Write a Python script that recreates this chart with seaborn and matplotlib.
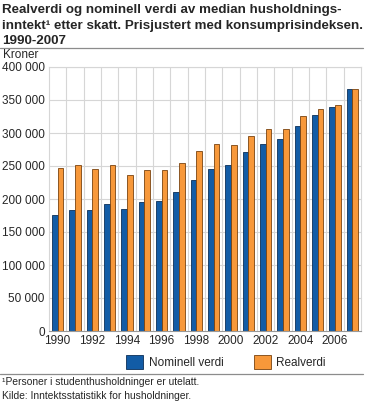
import pandas as pd
import matplotlib.pyplot as plt
import seaborn as sns
from matplotlib.lines import Line2D
from matplotlib.patches import Patch

sns.set_theme(style="white")
plt.rcParams['font.family'] = ['Liberation Sans', 'DejaVu Sans']

years = list(range(1990, 2008))
nominell = [175000, 183000, 183000, 193000, 185000, 195000, 196500, 210000, 229000,
            245000, 252000, 271000, 284000, 291000, 310000, 327000, 339000, 366000]
real = [247000, 251000, 245000, 252000, 237000, 244500, 244500, 254000, 272000,
        284000, 282000, 296000, 306000, 306000, 325000, 336000, 342000, 366000]
series = ['Nominell verdi', 'Realverdi']
colors = ['#125ca6', '#f7983a']
edges = ['#0b2f57', '#7a4310']
title_lines = ['Realverdi og nominell verdi av median husholdnings-',
               'inntekt¹ etter skatt. Prisjustert med konsumprisindeksen.',
               '1990-2007']

df = pd.DataFrame({
    'year': [str(y) for y in years] * 2,
    'value': nominell + real,
    'serie': [series[0]] * len(years) + [series[1]] * len(years),
})

fig = plt.figure(figsize=(3.69, 4.11), dpi=100)
ax = fig.add_axes([49 / 369, 80 / 411, 312 / 369, 264 / 411])

sns.barplot(data=df, x='year', y='value', hue='serie', hue_order=series,
            palette=colors, width=0.66, gap=0, ax=ax, legend=False, saturation=1)

# bar outlines per series
n = len(years)
for i, p in enumerate(ax.patches[:2 * n]):
    p.set_edgecolor(edges[i // n])
    p.set_linewidth(0.6)

ax.set_ylim(0, 400000)
ax.set_xlim(-0.5, n - 0.5)
ax.set_yticks(range(0, 400001, 50000))
ax.set_yticklabels([f'{v:,}'.replace(',', ' ') for v in range(0, 400001, 50000)], fontsize=8.5)
ax.set_xticks(range(0, n, 2))
ax.set_xticklabels([str(y) for y in years[::2]], fontsize=8.5)
ax.set_xlabel('')
ax.set_ylabel('')
ax.tick_params(axis='y', length=0, pad=3)
ax.tick_params(axis='x', length=0, pad=3)

for v in range(50000, 400001, 50000):
    ax.axhline(v, color='#d6d6d6', lw=0.8, zorder=0)
for k in range(1, n):
    ax.axvline(k - 0.5, color='#d6d6d6', lw=0.8, zorder=0)
for s in ['left', 'right', 'top']:
    ax.spines[s].set_color('#d6d6d6')
    ax.spines[s].set_linewidth(0.8)
ax.spines['bottom'].set_color('#999999')
ax.spines['bottom'].set_linewidth(0.8)
ax.set_axisbelow(True)

for k, line in enumerate(title_lines):
    fig.text(2 / 369, 1 - (13.5 + 15 * k) / 411, line,
             fontsize=9.6, fontweight='bold', va='baseline', ha='left')
fig.add_artist(Line2D([0, 363 / 369], [1 - 48 / 411] * 2, color='#8c8c8c', lw=0.9))
fig.text(3 / 369, 1 - 55 / 411, 'Kroner', fontsize=8.5, va='center', ha='left')

handles = [Patch(facecolor=colors[i], edgecolor=edges[i], linewidth=0.6) for i in range(2)]
fig.legend(handles, series, loc='center', bbox_to_anchor=(226 / 369, 1 - 362 / 411),
           ncol=2, frameon=False, fontsize=8.5, handlelength=1.4, handleheight=1.4,
           columnspacing=2.6, handletextpad=0.5)
fig.add_artist(Line2D([0, 363 / 369], [1 - 374 / 411] * 2, color='#8c8c8c', lw=0.9))

fig.text(2 / 369, 1 - 382 / 411, '¹Personer i studenthusholdninger er utelatt.',
         fontsize=7.4, va='center', ha='left')
fig.text(2 / 369, 1 - 396 / 411, 'Kilde: Inntektsstatistikk for husholdninger.',
         fontsize=7.4, va='center', ha='left')

fig.savefig('out.png', dpi=100)
